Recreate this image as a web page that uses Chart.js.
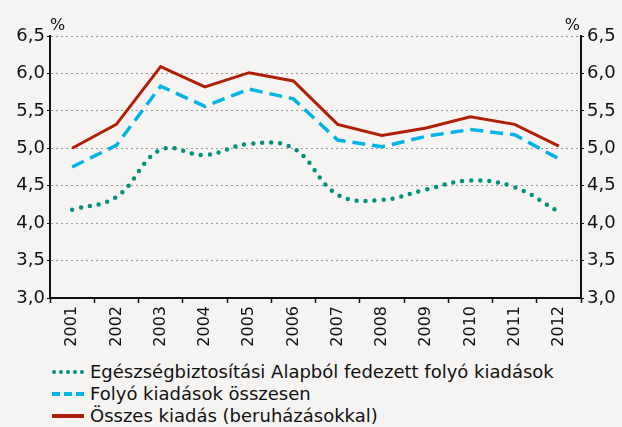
<!DOCTYPE html>
<html>
<head>
<meta charset="utf-8">
<script src="https://cdn.jsdelivr.net/npm/chart.js@4"></script>
<style>
  body { margin: 0; background: #f5f4f2; font-family: "DejaVu Sans", sans-serif; }
  #wrap { position: relative; width: 622px; height: 350px; }
  #legend { margin: 11px 0 0 52px; font-size: 18px; color: #111; line-height: 22px; }
  .item { display: flex; align-items: center; }
  .sample { width: 32px; margin-right: 6px; height: 0; }
</style>
</head>
<body>
<div id="wrap"><canvas id="myChart"></canvas></div>
<div id="legend"></div>
<script>
/*************** data ***************/
const years = ["2001", "2002", "2003", "2004", "2005", "2006", "2007", "2008", "2009", "2010", "2011", "2012"];
const alapFolyo = [4.18, 4.35, 4.98, 4.91, 5.06, 5.00, 4.38, 4.31, 4.45, 4.57, 4.48, 4.15];
const folyoOssz = [4.75, 5.04, 5.83, 5.56, 5.79, 5.66, 5.11, 5.02, 5.16, 5.25, 5.18, 4.86];
const osszesKiad = [5.00, 5.32, 6.09, 5.82, 6.01, 5.90, 5.32, 5.17, 5.27, 5.42, 5.32, 5.03];
const yTicks = [3.0, 3.5, 4.0, 4.5, 5.0, 5.5, 6.0, 6.5];
const seriesNames = [
  "Egészségbiztosítási Alapból fedezett folyó kiadások",
  "Folyó kiadások összesen",
  "Összes kiadás (beruházásokkal)"
];

const GREEN = "#00917d", BLUE = "#00b4e6", RED = "#b02008";

// "%" above both axes
const percentPlugin = {
  id: "percent",
  afterDraw(chart) {
    const c = chart.ctx, a = chart.chartArea;
    c.save();
    c.font = "16px 'DejaVu Sans'";
    c.fillStyle = "#111";
    c.textBaseline = "alphabetic";
    c.textAlign = "left";
    c.fillText("%", a.left, a.top - 6);
    c.textAlign = "right";
    c.fillText("%", a.right - 1, a.top - 6);
    c.restore();
  }
};

const fmt = v => Number(v).toFixed(1).replace(".", ",");

const ctx = document.getElementById("myChart").getContext("2d");
new Chart(ctx, {
  type: "line",
  data: {
    labels: years,
    datasets: [
      {
        label: seriesNames[0],
        data: alapFolyo,
        borderColor: GREEN,
        borderWidth: 4.5,
        borderDash: [0, 9],
        borderCapStyle: "round",
        tension: 0.4,
        pointRadius: 0
      },
      {
        label: seriesNames[1],
        data: folyoOssz,
        borderColor: BLUE,
        borderWidth: 3.5,
        borderDash: [13, 7],
        tension: 0,
        pointRadius: 0
      },
      {
        label: seriesNames[2],
        data: osszesKiad,
        borderColor: RED,
        borderWidth: 3,
        tension: 0,
        pointRadius: 0
      }
    ]
  },
  options: {
    responsive: true,
    maintainAspectRatio: false,
    animation: false,
    layout: { padding: { top: 36, left: 0, right: 0, bottom: 0 } },
    plugins: { legend: { display: false }, tooltip: { enabled: false } },
    scales: {
      x: {
        offset: true,
        afterFit(s) { s.height = 52; },
        grid: {
          offset: true,
          drawOnChartArea: false,
          drawTicks: true,
          tickLength: 5,
          tickColor: "#111",
          tickWidth: 1.5
        },
        border: { color: "#111", width: 2 },
        ticks: {
          minRotation: 90,
          maxRotation: 90,
          padding: 3,
          color: "#111",
          font: { family: "DejaVu Sans", size: 16 }
        }
      },
      y: {
        min: 3,
        max: 6.5,
        afterFit(s) { s.width = 50; },
        afterBuildTicks(s) { s.ticks = yTicks.map(v => ({ value: v })); },
        grid: {
          color: "#9a9a9a",
          lineWidth: 1,
          tickColor: "#111",
          tickLength: 3,
          tickBorderDash: [],
          drawTicks: true
        },
        border: { color: "#111", width: 2, dash: [2, 3] },
        ticks: {
          padding: 2,
          color: "#111",
          font: { family: "DejaVu Sans", size: 18 },
          callback: v => fmt(v)
        }
      },
      y2: {
        position: "right",
        min: 3,
        max: 6.5,
        afterFit(s) { s.width = 41; },
        afterBuildTicks(s) { s.ticks = yTicks.map(v => ({ value: v })); },
        grid: {
          drawOnChartArea: false,
          tickColor: "#111",
          tickLength: 3
        },
        border: { color: "#111", width: 2 },
        ticks: {
          padding: 3,
          color: "#111",
          font: { family: "DejaVu Sans", size: 18 },
          callback: v => fmt(v)
        }
      }
    }
  },
  plugins: [percentPlugin]
});

/*************** legend ***************/
const styles = [
  "border-top: 4px dotted " + GREEN,
  "border-top: 4px dashed " + BLUE,
  "border-top: 4px solid " + RED
];
let html = "";
for (let i = 0; i < seriesNames.length; i++) {
  html += `<div class="item"><span class="sample" style="${styles[i]}"></span><span>${seriesNames[i]}</span></div>`;
}
document.getElementById("legend").innerHTML = html;
</script>
</body>
</html>
